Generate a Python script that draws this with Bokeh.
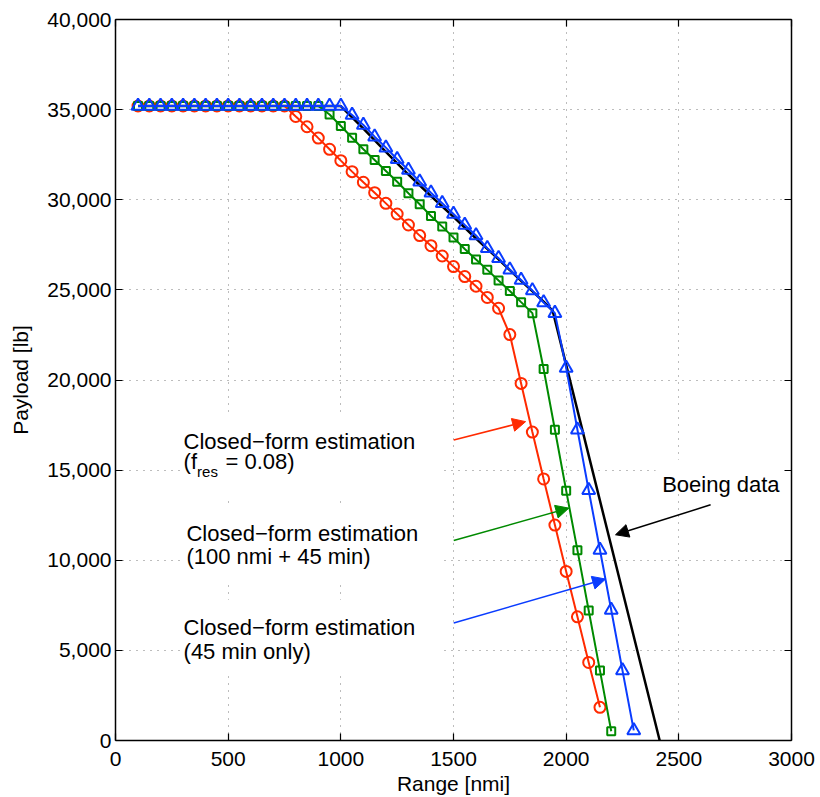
from bokeh.plotting import figure
from bokeh.models import (LinearAxis, Range1d, NumeralTickFormatter, FixedTicker,
                          Label, Arrow, NormalHead, BoxAnnotation)
from bokeh.embed import file_html
from bokeh.resources import INLINE

# ---------------- data ----------------
boeing_range = [100, 1000, 1100, 1200, 1300, 1400, 1500, 1600, 1700, 1800, 1900, 1940, 2415]
boeing_payload = [35200, 35200, 33950, 32650, 31400, 30200, 29050, 27850, 26700, 25500, 24350, 23850, 0]

red_range = [100, 150, 200, 250, 300, 350, 400, 450, 500, 550, 600, 650, 700, 750,
             800, 850, 900, 950, 1000, 1050, 1100, 1150, 1200, 1250, 1300, 1350, 1400,
             1450, 1500, 1550, 1600, 1650, 1700, 1750, 1800, 1850, 1900, 1950, 2000,
             2050, 2100, 2150]
red_payload = [35200, 35200, 35200, 35200, 35200, 35200, 35200, 35200, 35200, 35200,
               35200, 35200, 35200, 35200,
               34620, 34050, 33420, 32800, 32170, 31560, 30970, 30390, 29800, 29210,
               28600, 28010, 27450, 26880, 26290, 25740, 25200, 24580, 23980, 22520,
               19810, 17110, 14510, 11950, 9380, 6860, 4330, 1840]

green_range = [100, 150, 200, 250, 300, 350, 400, 450, 500, 550, 600, 650, 700, 750,
               800, 850, 900, 950, 1000, 1050, 1100, 1150, 1200, 1250, 1300, 1350,
               1400, 1450, 1500, 1550, 1600, 1650, 1700, 1750, 1800, 1850, 1900, 1950,
               2000, 2050, 2100, 2150, 2200]
green_payload = [35200, 35200, 35200, 35200, 35200, 35200, 35200, 35200, 35200, 35200,
                 35200, 35200, 35200, 35200, 35200, 35200, 35200,
                 34730, 34090, 33440, 32800, 32200, 31600, 31000, 30360, 29750, 29100,
                 28510, 27900, 27270, 26680, 26110, 25520, 24940, 24320, 23710, 20610,
                 17240, 13860, 10560, 7210, 3880, 510]

blue_range = [100, 150, 200, 250, 300, 350, 400, 450, 500, 550, 600, 650, 700, 750,
              800, 850, 900, 950, 1000, 1050, 1100, 1150, 1200, 1250, 1300, 1350, 1400,
              1450, 1500, 1550, 1600, 1650, 1700, 1750, 1800, 1850, 1900, 1950, 2000,
              2050, 2100, 2150, 2200, 2250, 2300]
blue_payload = [35200, 35200, 35200, 35200, 35200, 35200, 35200, 35200, 35200, 35200,
                35200, 35200, 35200, 35200, 35200, 35200, 35200, 35200, 35200,
                34700, 34150, 33500, 32890, 32250, 31650, 31000, 30390, 29810, 29210,
                28600, 28020, 27310, 26760, 26110, 25550, 24960, 24300, 23710, 20670,
                17240, 13880, 10570, 7240, 3880, 560]

x_ticks = [0, 500, 1000, 1500, 2000, 2500, 3000]
y_ticks = [0, 5000, 10000, 15000, 20000, 25000, 30000, 35000, 40000]

RED = "#ff2a00"
GREEN = "#008a00"
BLUE = "#0a3cff"
FONT = "Liberation Sans"
FS = "21px"
FS_ANN = "22px"

# ---------------- figure ----------------
p = figure(width=820, height=797, output_backend="svg", toolbar_location=None,
           x_range=Range1d(0, 3000), y_range=Range1d(0, 40000),
           min_border_left=115, min_border_right=29, min_border_top=19,
           min_border_bottom=56)
p.background_fill_color = "white"
p.border_fill_color = "white"
p.outline_line_color = None

xt = FixedTicker(ticks=x_ticks)
yt = FixedTicker(ticks=y_ticks)

for ax in (p.xaxis[0], p.yaxis[0]):
    ax.axis_line_color = "black"
    ax.axis_line_width = 1.5
    ax.major_tick_in = 7
    ax.major_tick_out = 0
    ax.major_tick_line_color = "black"
    ax.major_tick_line_width = 1.2
    ax.minor_tick_in = 0
    ax.minor_tick_out = 0
    ax.major_label_text_font = FONT
    ax.major_label_text_font_size = FS
    ax.major_label_text_color = "black"
    ax.axis_label_text_font = FONT
    ax.axis_label_text_font_size = FS
    ax.axis_label_text_font_style = "normal"
    ax.axis_label_text_color = "black"

p.xaxis[0].ticker = xt
p.yaxis[0].ticker = yt
p.yaxis[0].formatter = NumeralTickFormatter(format="0,0")
p.xaxis[0].axis_label = "Range [nmi]"
p.yaxis[0].axis_label = "Payload [lb]"
p.xaxis[0].major_label_standoff = 11
p.xaxis[0].axis_label_standoff = 3
p.yaxis[0].major_label_standoff = 4
p.yaxis[0].axis_label_standoff = 12

# box axes (top and right): inward ticks only, no labels drawn
for loc, tk in (("right", yt), ("above", xt)):
    ax = LinearAxis(ticker=tk)
    ax.axis_line_color = "black"
    ax.axis_line_width = 1.5
    ax.major_tick_in = 7
    ax.major_tick_out = 0
    ax.major_tick_line_color = "black"
    ax.major_tick_line_width = 1.2
    ax.minor_tick_in = 0
    ax.minor_tick_out = 0
    ax.major_label_text_color = None
    ax.major_label_text_font_size = "1px"
    ax.major_label_standoff = 0
    p.add_layout(ax, loc)

for g in (p.xgrid[0], p.ygrid[0]):
    g.grid_line_color = "#7a7a7a"
    g.grid_line_dash = "1 6"
    g.grid_line_width = 1
p.xgrid[0].ticker = xt
p.ygrid[0].ticker = yt

# white text boxes covering the grid behind the annotations
for l, r, t, b in ((290, 1442, 17960, 13360), (290, 1442, 12970, 8760),
                   (290, 1442, 7815, 3660), (2397, 3000, 15577, 13914)):
    p.add_layout(BoxAnnotation(left=l, right=r, top=t, bottom=b,
                               fill_color="white", fill_alpha=1.0,
                               line_color=None, level="underlay"))

# ---------------- series ----------------
p.line(boeing_range, boeing_payload, line_color="black", line_width=2.5)

p.line(red_range, red_payload, line_color=RED, line_width=2)
p.scatter(red_range, red_payload, marker="circle", size=11, line_color=RED,
          line_width=2, fill_alpha=0)

p.line(green_range, green_payload, line_color=GREEN, line_width=2)
p.scatter(green_range, green_payload, marker="square", size=8, line_color=GREEN,
          line_width=2, fill_alpha=0)

p.line(blue_range, blue_payload, line_color=BLUE, line_width=2)
p.scatter(blue_range, blue_payload, marker="triangle", size=13, line_color=BLUE,
          line_width=2, fill_alpha=0)

# ---------------- annotations ----------------
def lab(x, y, text, size=FS_ANN):
    p.add_layout(Label(x=x, y=y, text=text, text_font=FONT, text_font_size=size,
                       text_color="black", text_baseline="alphabetic",
                       text_align="left"))

lab(302, 16582, "Closed\u2212form estimation")
lab(302, 15474, "(f")
lab(362, 14920, "res", size="15px")
lab(488, 15474, "= 0.08)")

lab(315, 11507, "Closed\u2212form estimation")
lab(315, 10211, "(100 nmi + 45 min)")

lab(302, 6260, "Closed\u2212form estimation")
lab(302, 4947, "(45 min only)")

lab(2426, 14183, "Boeing data")

for (xs, ys, xe, ye, c) in ((1501, 16676, 1820, 17690, RED),
                            (1501, 11097, 2012, 12892, GREEN),
                            (1501, 6521, 2175, 8958, BLUE),
                            (2641, 13075, 2219, 11413, "black")):
    p.add_layout(Arrow(x_start=xs, y_start=ys, x_end=xe, y_end=ye,
                       line_color=c, line_width=1.5,
                       end=NormalHead(size=13, fill_color=c, line_color=c,
                                      line_width=1)))

open("out.html", "w").write(file_html(p, INLINE))
